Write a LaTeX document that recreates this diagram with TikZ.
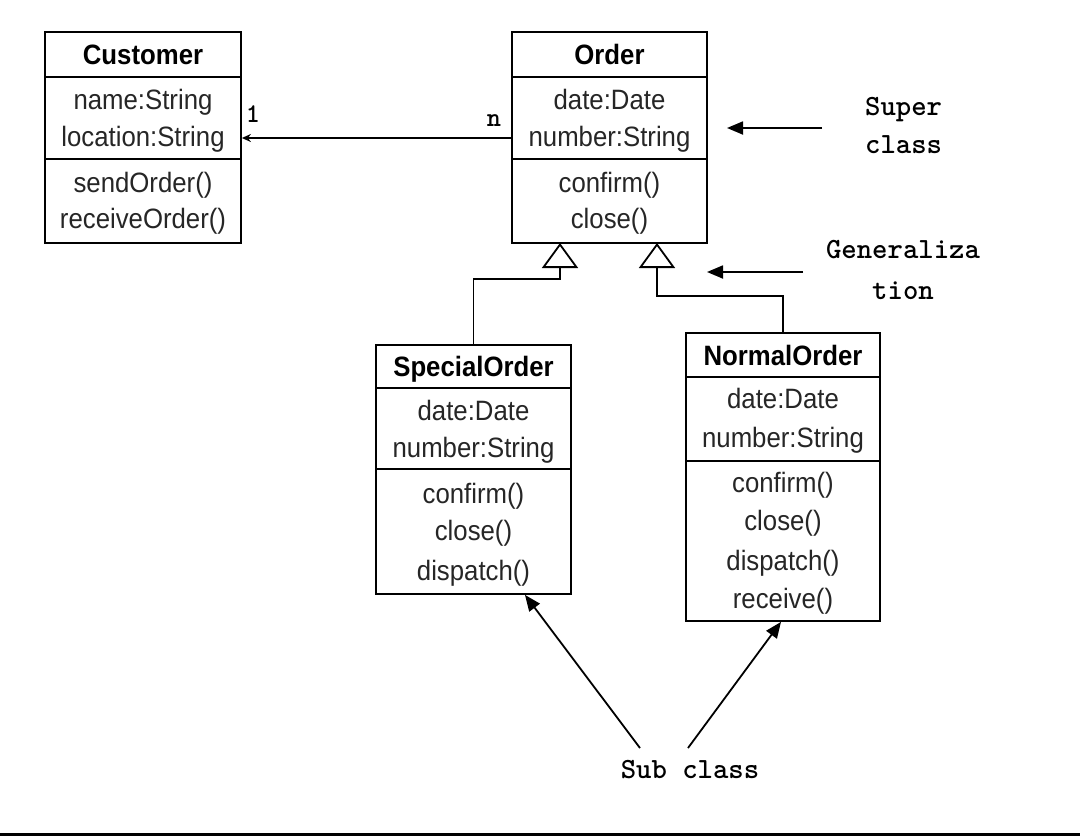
\documentclass[tikz,border=0pt]{standalone}
\usepackage{fontspec}
\setmainfont{Liberation Sans}[FakeStretch=0.92]
\usetikzlibrary{arrows.meta}
\begin{document}
\begin{tikzpicture}[x=1pt,y=-1pt,
  box/.style={draw, line width=1.8pt, inner sep=0pt, fill=white},
  divider/.style={line width=1.8pt},
  row/.style={anchor=base, inner sep=0pt, font=\fontsize{28}{30}\selectfont, text=black!85},
  ttl/.style={anchor=base, inner sep=0pt, font=\fontsize{28}{30}\selectfont\bfseries},
  mono/.style={anchor=base, inner sep=0pt, font=\ttfamily\bfseries\fontsize{29.3}{38}\selectfont},
  gen/.style={line width=1.8pt, -{Triangle[open, length=25pt, width=36pt, line width=1.8pt]}},
  ptr/.style={line width=1.8pt, -{Triangle[length=16pt, width=13pt]}},
  assoc/.style={line width=1.5pt, -{Stealth[length=9pt, width=8pt]}}
]
\fill[white] (0,0) rectangle (1080,836);
\useasboundingbox (0,0) rectangle (1080,836);
\fill[black] (0,833) rectangle (1080,836);

% Customer
\node[box, minimum width=196pt, minimum height=211pt] (cust) at (143,137.5) {};
\draw[divider] (45,77) -- (241,77);
\draw[divider] (45,159) -- (241,159);
\node[ttl] (custT) at (143,64) {Customer};
\node[row] (custA1) at (143,109) {name:String};
\node[row] (custA2) at (143,146) {location:String};
\node[row] (custM1) at (143,192) {sendOrder()};
\node[row] (custM2) at (143,228) {receiveOrder()};

% Order
\node[box, minimum width=195pt, minimum height=211pt] (ord) at (609.5,137.5) {};
\draw[divider] (512,77) -- (707,77);
\draw[divider] (512,159) -- (707,159);
\node[ttl] (ordT) at (609.5,64) {Order};
\node[row] (ordA1) at (609.5,109) {date:Date};
\node[row] (ordA2) at (609.5,146) {number:String};
\node[row] (ordM1) at (609.5,192) {confirm()};
\node[row] (ordM2) at (609.5,228) {close()};

% SpecialOrder
\node[box, minimum width=195pt, minimum height=249pt] (sp) at (473.5,469.5) {};
\draw[divider] (376,388) -- (571,388);
\draw[divider] (376,469) -- (571,469);
\node[ttl] (spT) at (473.5,376) {SpecialOrder};
\node[row] (spA1) at (473.5,420) {date:Date};
\node[row] (spA2) at (473.5,457) {number:String};
\node[row] (spM1) at (473.5,503) {confirm()};
\node[row] (spM2) at (473.5,540) {close()};
\node[row] (spM3) at (473.5,580) {dispatch()};

% NormalOrder
\node[box, minimum width=194pt, minimum height=288pt] (no) at (783,477) {};
\draw[divider] (686,377) -- (880,377);
\draw[divider] (686,461) -- (880,461);
\node[ttl] (noT) at (783,365) {NormalOrder};
\node[row] (noA1) at (783,408) {date:Date};
\node[row] (noA2) at (783,447) {number:String};
\node[row] (noM1) at (783,492) {confirm()};
\node[row] (noM2) at (783,530) {close()};
\node[row] (noM3) at (783,570) {dispatch()};
\node[row] (noM4) at (783,608) {receive()};

% association
\draw[assoc] (ord.west |- 0,138) -- (cust.east |- 0,138);
\node[mono, font=\ttfamily\bfseries\fontsize{27}{30}\selectfont] (mOne) at (253,122) {1};
\node[mono, font=\ttfamily\bfseries\fontsize{27}{30}\selectfont] (mN) at (494,126) {n};

% generalizations
\coordinate (g1) at (560,243);
\coordinate (g2) at (657,243);
\draw[gen] (sp.north) -- ++(0,-65) -| (g1);
\draw[gen] (no.north) -- ++(0,-36) -| (g2);

% annotations
\node[mono, anchor=base west] (sup1) at (865,115) {Super};
\node[mono, anchor=base west] (sup2) at (865,153) {class};
\coordinate (supA) at (822,128);
\coordinate (supB) at (727,128);
\draw[ptr] (supA) -- (supB);

\node[mono] (gen1) at (903,258) {Generaliza};
\node[mono] (gen2) at (903,299) {tion};
\coordinate (genA) at (803,272);
\coordinate (genB) at (707,272);
\draw[ptr] (genA) -- (genB);

\node[mono] (sub) at (690,778) {Sub class};
\coordinate (s1) at (640,748);
\coordinate (s2) at (688,748);
\draw[ptr] (s1) -- (sp.south -| 525,0);
\draw[ptr] (s2) -- (no.south -| 781,0);
\end{tikzpicture}
\end{document}
